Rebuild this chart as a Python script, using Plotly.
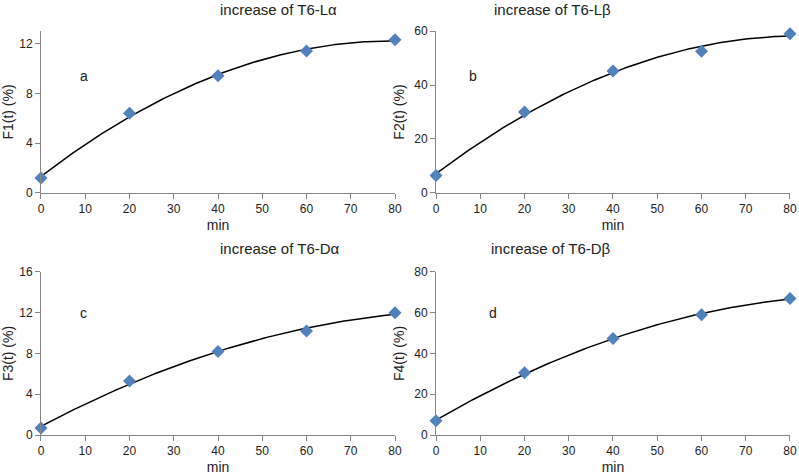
import numpy as np
import plotly.graph_objects as go
from plotly.subplots import make_subplots

minutes = [0, 20, 40, 60, 80]
f1_la = [1.2, 6.4, 9.4, 11.4, 12.3]
f2_lb = [6.5, 30.0, 45.2, 52.5, 59.0]
f3_da = [0.7, 5.3, 8.2, 10.2, 12.0]
f4_db = [7.0, 30.5, 47.3, 59.0, 67.0]

titles = ["increase of T6-Lα", "increase of T6-Lβ", "increase of T6-Dα", "increase of T6-Dβ"]
ylabels = ["F1(t) (%)", "F2(t) (%)", "F3(t) (%)", "F4(t) (%)"]
letters = ["a", "b", "c", "d"]
series = [f1_la, f2_lb, f3_da, f4_db]
yranges = [[0, 13], [0, 60], [0, 16], [0, 80]]
ydticks = [4, 20, 4, 20]

fig = make_subplots(rows=2, cols=2)

xdom = [[0.0513, 0.4944], [0.5457, 0.9887]]
ydom = [[0.5937, 0.9347], [0.0842, 0.4274]]
title_y = [0.981, 0.476]
letter_pos = [(0.098, 0.862), (0.592, 0.862), (0.098, 0.341), (0.617, 0.341)]

xs = np.linspace(0, 80, 161)
for i, vals in enumerate(series):
    r, c = i // 2 + 1, i % 2 + 1
    # quadratic trend line, like the excel polynomial trendline
    coef = np.polyfit(minutes, vals, 2)
    fig.add_trace(go.Scatter(x=xs, y=np.polyval(coef, xs), mode="lines",
                             line=dict(color="black", width=1.5), showlegend=False), row=r, col=c)
    fig.add_trace(go.Scatter(x=minutes, y=vals, mode="markers",
                             marker=dict(symbol="diamond", color="#4F81BD", size=10,
                                         line=dict(width=0)),
                             showlegend=False, cliponaxis=False), row=r, col=c)
    fig.update_xaxes(range=[0, 80], dtick=10, domain=xdom[c - 1], showline=True,
                     linecolor="#868686", ticks="outside", tickcolor="#868686", ticklen=5,
                     showgrid=False, zeroline=False, automargin=False,
                     title=dict(text="min", standoff=4), row=r, col=c)
    fig.update_yaxes(range=yranges[i], dtick=ydticks[i], domain=ydom[r - 1], showline=True,
                     linecolor="#868686", ticks="outside", tickcolor="#868686", ticklen=5,
                     showgrid=False, zeroline=False, automargin=False,
                     title=dict(text=ylabels[i], standoff=6), row=r, col=c)
    xc = (xdom[c - 1][0] + xdom[c - 1][1]) / 2
    fig.add_annotation(text=titles[i], x=xc, y=title_y[r - 1], xref="paper", yref="paper",
                       showarrow=False, font=dict(size=15), yanchor="middle")
    lx, ly = letter_pos[i]
    fig.add_annotation(text=letters[i], x=lx, y=ly, xref="paper", yref="paper",
                       showarrow=False, font=dict(size=14))

fig.update_layout(width=799, height=475, margin=dict(l=0, r=0, t=0, b=0),
                  plot_bgcolor="white", paper_bgcolor="white",
                  font=dict(family="Liberation Sans, Arial", size=12, color="#222"))
# drop the browser's default body margin so the figure sits at the page corner
fig.write_html("out.html", config={"displayModeBar": False},
               post_script="document.body.style.margin='0';")
